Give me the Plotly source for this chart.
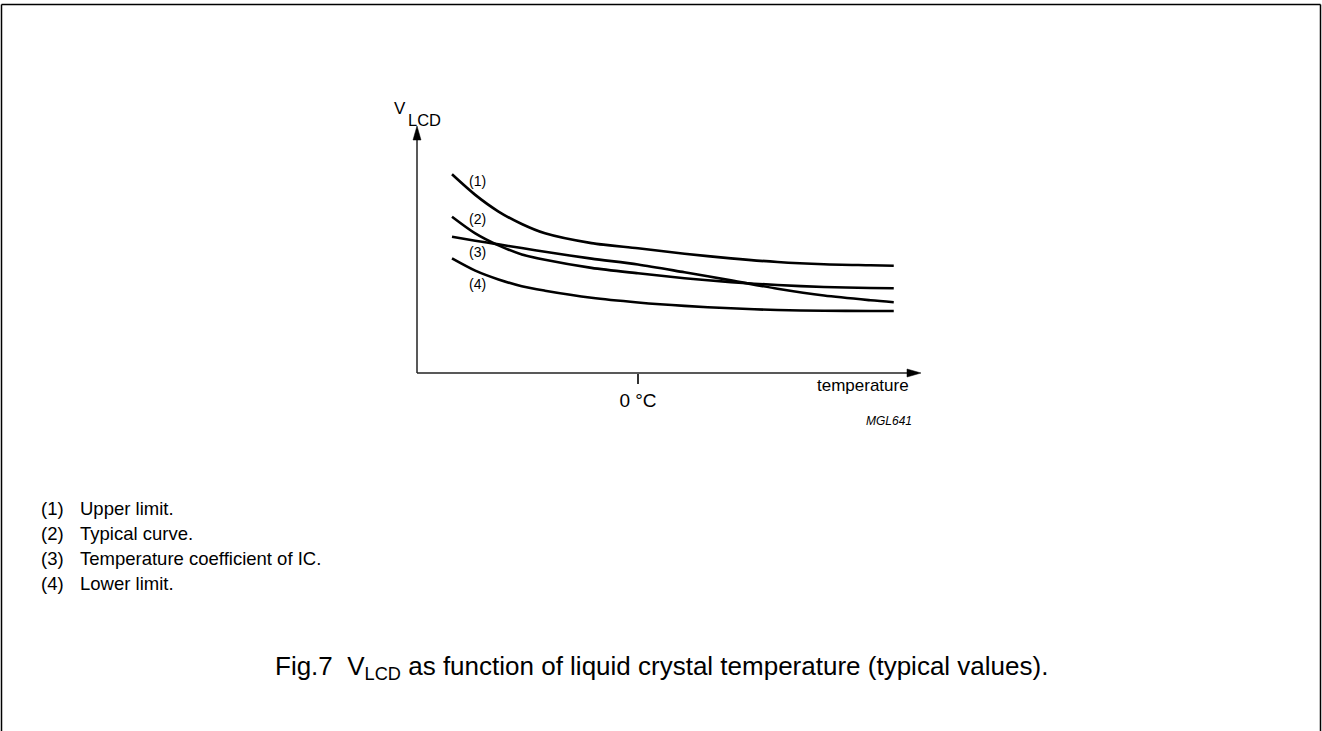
import plotly.graph_objects as go

# ---- data (temperature in degC, V_LCD in arbitrary units) ----
temp = [-40, -35, -30, -25, -20, -10, 0, 10, 20, 30, 40, 50, 55]
upper_limit = [8.11, 7.27, 6.59, 6.08, 5.70, 5.30, 5.09, 4.87, 4.68, 4.53, 4.44, 4.40, 4.38]
typical = [6.38, 5.70, 5.21, 4.84, 4.62, 4.29, 4.07, 3.87, 3.71, 3.59, 3.51, 3.47, 3.46]
ic_coeff = [5.56, 5.40, 5.25, 5.10, 4.95, 4.67, 4.43, 4.11, 3.78, 3.44, 3.16, 2.97, 2.89]
lower_limit = [4.68, 4.18, 3.82, 3.54, 3.36, 3.07, 2.88, 2.74, 2.64, 2.57, 2.54, 2.53, 2.53]
curve_labels = ["(1)", "(2)", "(3)", "(4)"]
notes = ["Upper limit.", "Typical curve.", "Temperature coefficient of IC.", "Lower limit."]
x_ticks = [0]
x_tick_text = ["0 °C"]

FONT = "Liberation Sans, Arial, sans-serif"
W, H = 1322, 731
OX, OY = 417, 373          # axis origin (px)
XTIP, YTIP = 921, 126      # arrow tips (px)
L, R, T, B = OX, W - XTIP, YTIP, H - OY
PW, PH = W - L - R, H - T - B
X0PX, XSCALE = 638, 4.65   # px of 0 degC, px per degC
YSCALE = 24.5              # px per V unit


def px(x):
    return (x - L) / PW


def py(y):
    return (H - B - y) / PH


fig = go.Figure()
for ys in [upper_limit, typical, ic_coeff, lower_limit]:
    fig.add_trace(go.Scatter(x=temp, y=ys, mode="lines",
                             line=dict(color="black", width=2.6, shape="spline", smoothing=0.8),
                             showlegend=False, hoverinfo="skip"))

shapes = []
# axes lines with arrows
shapes.append(dict(type="line", xref="paper", yref="paper", x0=0, y0=0, x1=px(XTIP - 10), y1=0,
                   line=dict(color="#222", width=1.5)))
shapes.append(dict(type="line", xref="paper", yref="paper", x0=0, y0=0, x1=0, y1=py(YTIP + 10),
                   line=dict(color="#222", width=1.5)))
shapes.append(dict(type="path", xref="paper", yref="paper",
                   path=f"M {px(XTIP)} {py(OY)} L {px(XTIP-14)} {py(OY-4)} L {px(XTIP-14)} {py(OY+4)} Z",
                   fillcolor="black", line=dict(color="black", width=0.5)))
shapes.append(dict(type="path", xref="paper", yref="paper",
                   path=f"M {px(OX)} {py(YTIP)} L {px(OX-4)} {py(YTIP+14)} L {px(OX+4)} {py(YTIP+14)} Z",
                   fillcolor="black", line=dict(color="black", width=0.5)))
# frame
shapes.append(dict(type="line", xref="paper", yref="paper", x0=px(1.5), y0=py(4.5), x1=px(1320.5), y1=py(4.5),
                   line=dict(color="black", width=1.5)))
shapes.append(dict(type="line", xref="paper", yref="paper", x0=px(1.5), y0=py(4.5), x1=px(1.5), y1=py(740),
                   line=dict(color="black", width=1.5)))
shapes.append(dict(type="line", xref="paper", yref="paper", x0=px(1320.5), y0=py(4.5), x1=px(1320.5), y1=py(740),
                   line=dict(color="black", width=1.5)))

ann = []
# axis labels
ann.append(dict(text="V", x=px(400), y=py(108), xref="paper", yref="paper", showarrow=False,
                font=dict(size=17, color="black", family=FONT), xanchor="center", yanchor="middle"))
ann.append(dict(text="LCD", x=px(406), y=py(120), xref="paper", yref="paper", showarrow=False,
                font=dict(size=16.5, color="black", family=FONT), xanchor="left", yanchor="middle"))
ann.append(dict(text="temperature", x=px(911), y=py(385), xref="paper", yref="paper", showarrow=False,
                font=dict(size=17, color="black", family=FONT), xanchor="right", yanchor="middle"))
ann.append(dict(text="<i>MGL641</i>", x=px(889), y=py(421), xref="paper", yref="paper", showarrow=False,
                font=dict(size=12, color="black", family=FONT), xanchor="center", yanchor="middle"))
# curve labels
for lab, yy in zip(curve_labels, [181, 219, 252, 284]):
    ann.append(dict(text=lab, x=px(477), y=py(yy), xref="paper", yref="paper", showarrow=False,
                    font=dict(size=14, color="black", family=FONT), xanchor="center", yanchor="middle"))
# notes
for i, (lab, note) in enumerate(zip(curve_labels, notes)):
    yy = 508 + 25 * i
    ann.append(dict(text=lab, x=px(39), y=py(yy), xref="paper", yref="paper", showarrow=False,
                    font=dict(size=18.5, color="black", family=FONT), xanchor="left", yanchor="middle"))
    ann.append(dict(text=note, x=px(78), y=py(yy), xref="paper", yref="paper", showarrow=False,
                    font=dict(size=18.5, color="black", family=FONT), xanchor="left", yanchor="middle"))
# caption
ann.append(dict(text="Fig.7  V<sub>LCD</sub> as function of liquid crystal temperature (typical values).",
                x=px(661), y=py(667), xref="paper", yref="paper", showarrow=False,
                font=dict(size=26, color="black", family=FONT), xanchor="center", yanchor="middle"))

fig.update_layout(
    width=W, height=H,
    margin=dict(l=L, r=R, t=T, b=B, pad=0),
    paper_bgcolor="white", plot_bgcolor="white",
    xaxis=dict(range=[(OX - X0PX) / XSCALE, (XTIP - X0PX) / XSCALE], showgrid=False, zeroline=False,
               showline=False, tickvals=x_ticks, ticktext=x_tick_text, ticks="outside",
               ticklen=10, tickwidth=1.5, tickcolor="#333",
               tickfont=dict(size=19, color="black", family=FONT)),
    yaxis=dict(range=[0, (OY - YTIP) / YSCALE], showgrid=False, zeroline=False, showline=False,
               showticklabels=False, ticks=""),
    shapes=shapes, annotations=ann, showlegend=False,
)
fig.write_html("out.html", config={"displayModeBar": False},
               post_script="document.body.style.margin='0';document.body.style.overflow='hidden';")
